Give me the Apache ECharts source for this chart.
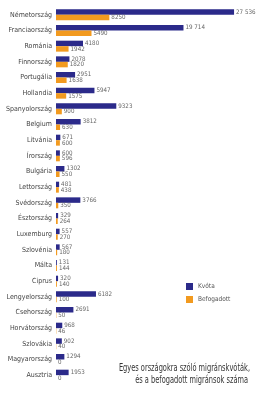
<!DOCTYPE html>
<html>
<head>
<meta charset="utf-8">
<script src="https://cdn.jsdelivr.net/npm/echarts@6/dist/echarts.min.js"></script>
<style>
html,body{margin:0;padding:0;background:#fff;}
#c{width:275px;height:393px;}
</style>
</head>
<body>
<div id="c"></div>
<script>
const countries = ["Németország","Franciaország","Románia","Finnország","Portugália","Hollandia","Spanyolország","Belgium","Litvánia","Írország","Bulgária","Lettország","Svédország","Észtország","Luxemburg","Szlovénia","Málta","Ciprus","Lengyelország","Csehország","Horvátország","Szlovákia","Magyarország","Ausztria"];
const kvota = [27536,19714,4180,2078,2951,5947,9323,3812,671,600,1302,481,3766,329,557,567,131,320,6182,2691,968,902,1294,1953];
const befogadott = [8250,5490,1942,1820,1638,1575,900,630,600,596,550,438,350,264,270,180,144,140,100,50,46,40,0,0];
const seriesNames = ["Kvóta","Befogadott"];
const titleLines = ["Egyes országokra szóló migránskvóták,","és a befogadott migránsok száma"];

const FONT = "'Liberation Sans Narrow','DejaVu Sans Condensed',sans-serif";
function fmt(p){
  const v = p.value;
  if (v >= 10000) { const s = String(v); return s.slice(0, s.length-3) + ' ' + s.slice(-3); }
  return String(v);
}
const labelCfg = {show:true, position:'right', distance:2, fontSize:6.2, color:'#666', fontFamily:FONT, formatter:fmt};

const chart = echarts.init(document.getElementById('c'), null, {renderer:'canvas'});
chart.setOption({
  animation:false,
  backgroundColor:'#fff',
  grid:{left:56, right:25, top:7, bottom:10, containLabel:false},
  xAxis:{type:'value', min:0, max:30000, show:false},
  yAxis:{type:'category', data:countries, inverse:true,
    axisLine:{show:false}, axisTick:{show:false},
    axisLabel:{fontSize:7, color:'#444', fontFamily:FONT, margin:4}},
  legend:{orient:'vertical', left:186, top:283, padding:0, itemWidth:7, itemHeight:7, itemGap:6, icon:'rect',
    textStyle:{fontSize:6.5, color:'#555', fontFamily:FONT}, data:seriesNames},
  series:[
    {name:seriesNames[0], type:'bar', data:kvota, itemStyle:{color:'#2b2a8a'}, barGap:'0%', barCategoryGap:'30%', label:labelCfg},
    {name:seriesNames[1], type:'bar', data:befogadott, itemStyle:{color:'#f29a1f'}, label:labelCfg}
  ],
  graphic:[
    {type:'text', x:250, y:368, scaleX:0.67, style:{text:titleLines[0], font:'11px '+FONT, fill:'#333', textAlign:'right', textVerticalAlign:'middle'}},
    {type:'text', x:248, y:380, scaleX:0.67, style:{text:titleLines[1], font:'11px '+FONT, fill:'#333', textAlign:'right', textVerticalAlign:'middle'}}
  ]
});
</script>
</body>
</html>
